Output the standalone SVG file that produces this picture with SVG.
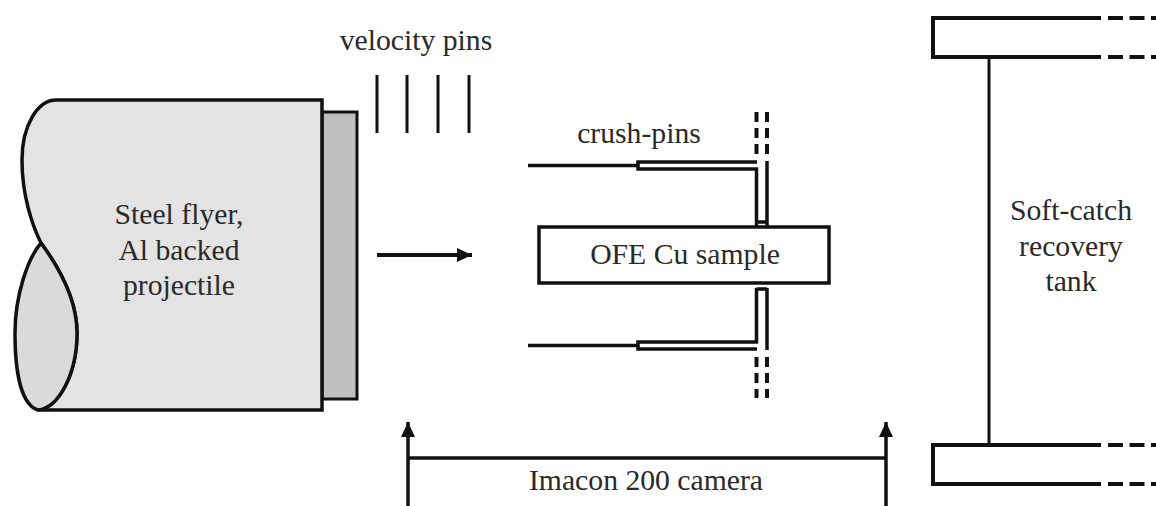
<svg xmlns="http://www.w3.org/2000/svg" width="1156" height="506" viewBox="0 0 1156 506">
<style>
text{font-family:"Liberation Serif","Times New Roman",serif;font-size:29.700px;fill:#2a2a2a;text-anchor:middle}
.l{fill:none;stroke:#111;stroke-width:3.500}
.m{fill:none;stroke:#111;stroke-width:3}
.d{fill:none;stroke:#111;stroke-width:4;stroke-dasharray:10 6}
.t{fill:none;stroke:#111;stroke-width:4}
.e{fill:none;stroke:#111;stroke-width:4;stroke-dasharray:15 6.500}
</style>
<defs><marker id="a" markerUnits="userSpaceOnUse" markerWidth="16" markerHeight="14" refX="15" refY="7" orient="auto"><path d="M0 0L15 7L0 14Z" fill="#111"/></marker></defs>
<rect width="1156" height="506" fill="#fff"/>
<g id="backing"><rect x="322" y="112" width="35" height="287" fill="#bfbfbf" stroke="#111" stroke-width="3"/></g>
<g id="projectile">
<path d="M56 100H322V410H38C20 400 15 360 15 333C15 295 28 258 41 243C32 225 22 195 22 160C22 125 38 100 56 100Z" fill="#e3e3e3" stroke="none"/>
<path d="M322 100H56C38 100 22 125 22 160C22 195 32 225 41 243C55 262 77 295 77 333C77 375 58 408 38 410H322Z" class="l"/>
<path d="M41 243C28 258 15 295 15 333C15 375 22 405 38 410C58 408 77 375 77 333C77 295 55 262 41 243Z" fill="#dadada" stroke="#111" stroke-width="3.500"/>
<text x="179" y="224">Steel flyer,</text><text x="179" y="260">Al backed</text><text x="179" y="295">projectile</text>
</g>
<g id="velocity-pins">
<text x="416" y="50">velocity pins</text>
<path class="m" d="M377 75V133M407 75V133M438 75V133M469 75V133"/>
</g>
<g id="crush-pins">
<text x="639" y="143">crush-pins</text>
<path class="l" d="M528 165.500H638M528 345.500H638"/>
<path class="l" d="M757 162H638V169H756.500V227M767 161V227M756.500 222H767"/>
<path class="l" d="M757 349H638V342H756.500V288M767 350V288M756.500 289H767"/>
<path class="d" d="M756.500 112V155M767 112V155M756.500 357V398M767 357V398"/>
</g>
<g id="sample"><rect x="539" y="227" width="290" height="56" fill="#fff" stroke="#111" stroke-width="3.500"/><text x="685" y="264">OFE Cu sample</text></g>
<g id="tank">
<path class="t" d="M1101 18H933V57H1101M1101 445H933V484H1101"/>
<path class="e" d="M1108 18H1156M1108 57H1156M1108 445H1156M1108 484H1156"/>
<path class="m" d="M989 57V445"/>
<text x="1071" y="220">Soft-catch</text><text x="1071" y="256">recovery</text><text x="1071" y="291">tank</text>
</g>
<g id="connectors">
<path class="t" d="M377 255H472" marker-end="url(#a)"/>
<path class="l" d="M408 506V422" marker-end="url(#a)"/>
<path class="l" d="M886 506V422" marker-end="url(#a)"/>
<path class="l" d="M408 458H886"/>
</g>
<g id="camera"><text x="646" y="490">Imacon 200 camera</text></g>
</svg>
